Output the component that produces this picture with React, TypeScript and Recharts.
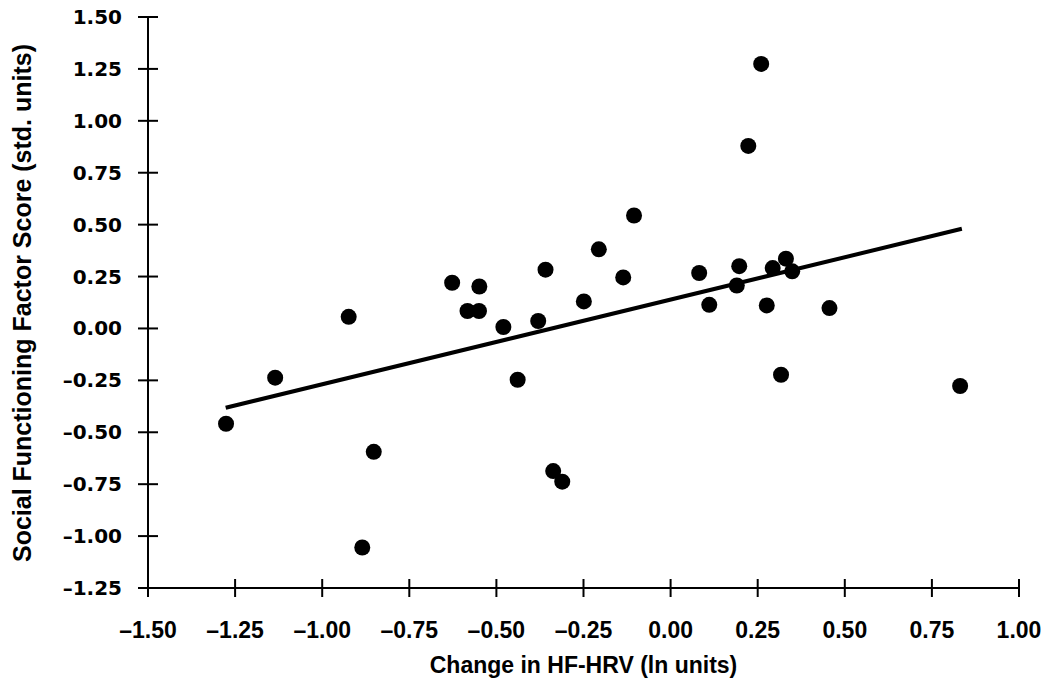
import { ScatterChart, Scatter, XAxis, YAxis } from "recharts";

// change in HF-HRV (ln units) per participant
const hrvChange = [
  -1.276, -1.135, -0.924, -0.852, -0.885, -0.627, -0.549, -0.583, -0.55, -0.48,
  -0.38, -0.359, -0.439, -0.337, -0.311, -0.249, -0.206, -0.105, -0.136, 0.082,
  0.111, 0.197, 0.19, 0.223, 0.26, 0.276, 0.293, 0.331, 0.349, 0.456, 0.317, 0.831,
];
// social functioning factor score (std. units), same order
const socialScore = [
  -0.459, -0.237, 0.056, -0.594, -1.055, 0.22, 0.202, 0.084, 0.084, 0.007,
  0.036, 0.283, -0.247, -0.687, -0.738, 0.13, 0.381, 0.544, 0.246, 0.267,
  0.114, 0.3, 0.207, 0.879, 1.274, 0.111, 0.291, 0.336, 0.275, 0.098, -0.223, -0.277,
];
// fitted line
const trendX = [-1.277, 0.836];
const trendY = [-0.382, 0.48];

const xTicks = [-1.5, -1.25, -1, -0.75, -0.5, -0.25, 0, 0.25, 0.5, 0.75, 1];
const yTicks = [-1.25, -1, -0.75, -0.5, -0.25, 0, 0.25, 0.5, 0.75, 1, 1.25, 1.5];

const points = hrvChange.map((x, i) => ({ x, y: socialScore[i] }));
const trend = trendX.map((x, i) => ({ x, y: trendY[i] }));

const TICK = 10;
const X_GAP = 18;
const Y_GAP = 16;

function fmt(v: number) {
  const s = Math.abs(v).toFixed(2);
  return v < 0 ? "\u2013" + s : s;
}

// tick marks cross the axis, so draw them here instead of tickLine
function XTick({ x, y, payload }: any) {
  const axisY = y - TICK - X_GAP;
  return (
    <g>
      <line x1={x} x2={x} y1={axisY - 9} y2={axisY + 9} stroke="#000" strokeWidth={2} />
      <text
        x={x}
        y={y + 22}
        textAnchor="middle"
        fontFamily="'Liberation Sans', Arial, sans-serif"
        fontWeight="bold"
        fontSize={23}
        fill="#000"
      >
        {fmt(payload.value)}
      </text>
    </g>
  );
}

function YTick({ x, y, payload }: any) {
  const axisX = x + TICK + Y_GAP;
  return (
    <g>
      <line x1={axisX - 10} x2={axisX + 10} y1={y} y2={y} stroke="#000" strokeWidth={2} />
      <text
        x={x}
        y={y + 7}
        textAnchor="end"
        fontFamily="'DejaVu Sans', sans-serif"
        fontWeight="bold"
        fontSize={20}
        fill="#000"
      >
        {fmt(payload.value)}
      </text>
    </g>
  );
}

function Dot({ cx, cy }: any) {
  return <circle cx={cx} cy={cy} r={8} fill="#000" />;
}

const titleFont = "'Liberation Sans', Arial, sans-serif";

export default function App() {
  return (
    <div style={{ position: "absolute", left: 0, top: 0, width: 1050, height: 685, background: "#fff" }}>
      <ScatterChart width={1050} height={685} margin={{ top: 17, right: 31, left: 0, bottom: 0 }}>
        <XAxis
          type="number"
          dataKey="x"
          domain={[-1.5, 1]}
          ticks={xTicks}
          height={97}
          tickSize={TICK}
          tickMargin={X_GAP}
          tickLine={false}
          axisLine={{ stroke: "#000", strokeWidth: 2 }}
          tick={<XTick />}
          interval={0}
        />
        <YAxis
          type="number"
          dataKey="y"
          domain={[-1.25, 1.5]}
          ticks={yTicks}
          width={148}
          tickSize={TICK}
          tickMargin={Y_GAP}
          tickLine={false}
          axisLine={{ stroke: "#000", strokeWidth: 2 }}
          tick={<YTick />}
          interval={0}
        />
        <Scatter
          data={trend}
          line={{ stroke: "#000", strokeWidth: 4 }}
          shape={() => <g />}
          isAnimationActive={false}
        />
        <Scatter data={points} shape={<Dot />} isAnimationActive={false} />
      </ScatterChart>

      <div
        style={{
          position: "absolute",
          left: 148,
          width: 871,
          top: 654,
          textAlign: "center",
          fontFamily: titleFont,
          fontWeight: "bold",
          fontSize: 23,
          lineHeight: "23px",
          whiteSpace: "nowrap",
        }}
      >
        Change in HF-HRV (ln units)
      </div>
      <div
        style={{
          position: "absolute",
          left: 22 - 300,
          top: 303 - 13,
          width: 600,
          height: 26,
          transform: "rotate(-90deg)",
          textAlign: "center",
          fontFamily: titleFont,
          fontWeight: "bold",
          fontSize: 25,
          lineHeight: "26px",
          whiteSpace: "nowrap",
        }}
      >
        Social Functioning Factor Score (std. units)
      </div>
    </div>
  );
}
